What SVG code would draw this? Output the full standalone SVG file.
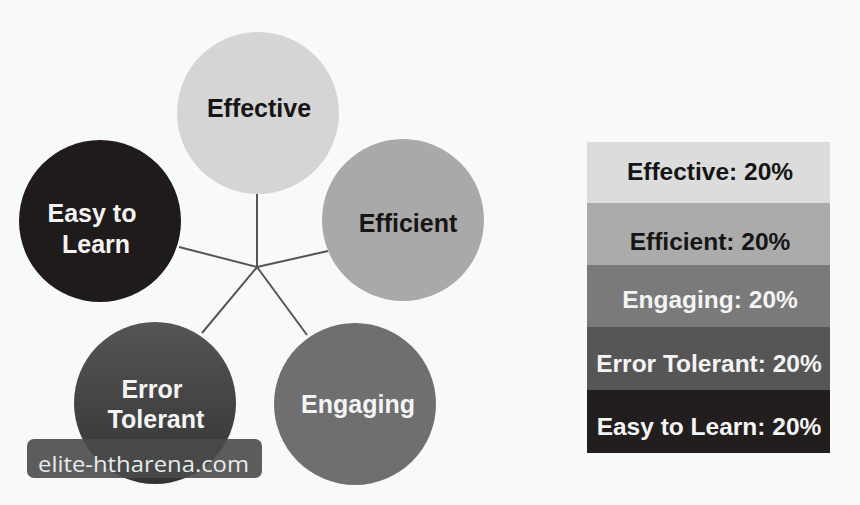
<svg xmlns="http://www.w3.org/2000/svg" width="860" height="505" viewBox="0 0 860 505">
<style>
.lbl{font-family:"Liberation Sans",Arial,sans-serif;font-weight:bold;font-size:25px;text-anchor:middle}
.leg{font-family:"Liberation Sans",Arial,sans-serif;font-weight:bold;font-size:24.5px;text-anchor:middle}
.dark{fill:#151515}
.light{fill:#f4f4f4}
.spoke{stroke:#555;stroke-width:2;fill:none}
</style>
<defs>
<linearGradient id="gErr" x1="0" y1="0" x2="0" y2="1">
<stop offset="0" stop-color="#555"/>
<stop offset="1" stop-color="#333"/>
</linearGradient>
</defs>
<rect width="860" height="505" fill="#f8f9f9"/>
<g id="connectors">
<line class="spoke" x1="257" y1="267" x2="257" y2="193"/>
<line class="spoke" x1="257" y1="267" x2="328" y2="251"/>
<line class="spoke" x1="257" y1="267" x2="179" y2="247"/>
<line class="spoke" x1="257" y1="267" x2="202" y2="333"/>
<line class="spoke" x1="257" y1="267" x2="307" y2="335"/>
</g>
<g id="effective">
<circle cx="258" cy="113" r="81" fill="#d5d5d5"/>
<text class="lbl dark" x="259" y="117">Effective</text>
</g>
<g id="efficient">
<circle cx="403" cy="220" r="81" fill="#a9a9a9"/>
<text class="lbl dark" x="408" y="232">Efficient</text>
</g>
<g id="easy">
<circle cx="100" cy="221" r="81" fill="#1f1b1b"/>
<text class="lbl light" x="92" y="222">Easy to</text>
<text class="lbl light" x="96" y="253">Learn</text>
</g>
<g id="error">
<circle cx="155" cy="403" r="81" fill="url(#gErr)"/>
<text class="lbl light" x="152" y="398">Error</text>
<text class="lbl light" x="156" y="428">Tolerant</text>
</g>
<g id="engaging">
<circle cx="355" cy="404" r="81" fill="#6f6f6f"/>
<text class="lbl light" x="358" y="413">Engaging</text>
</g>
<g id="legend">
<rect x="587" y="142" width="243" height="61" fill="#dcdcdc"/>
<rect x="587" y="203" width="243" height="62" fill="#ababab"/>
<rect x="587" y="265" width="243" height="62" fill="#7a7a7a"/>
<rect x="587" y="327" width="243" height="63" fill="#565656"/>
<rect x="587" y="390" width="243" height="63" fill="#221e1e"/>
<text class="leg dark" x="710" y="180">Effective: 20%</text>
<text class="leg dark" x="710" y="250">Efficient: 20%</text>
<text class="leg light" x="710" y="308">Engaging: 20%</text>
<text class="leg light" x="709" y="372">Error Tolerant: 20%</text>
<text class="leg light" x="709" y="435">Easy to Learn: 20%</text>
</g>
<g id="watermark">
<rect x="27" y="439" width="235" height="39" rx="7" fill="#4a4a4a" fill-opacity="0.9"/>
<text x="38" y="472" font-family="'Open Sans','DejaVu Sans',sans-serif" font-size="22" fill="#e6ecee" textLength="211" lengthAdjust="spacingAndGlyphs">elite-htharena.com</text>
</g>
</svg>
